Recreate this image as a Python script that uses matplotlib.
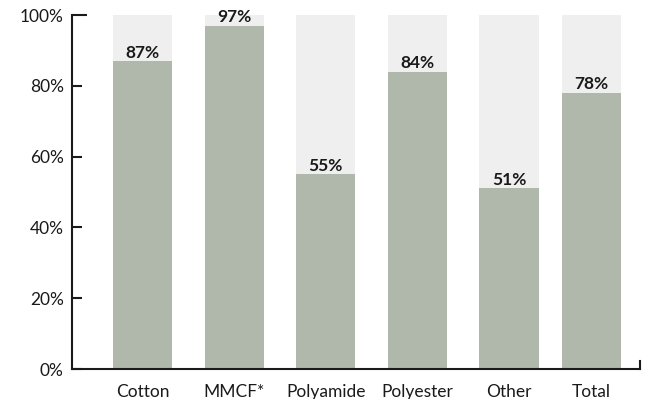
import matplotlib
matplotlib.use("Agg")
import matplotlib.pyplot as plt
from matplotlib.ticker import FuncFormatter

categories = ["Cotton", "MMCF*", "Polyamide", "Polyester", "Other", "Total"]
shares = [87, 97, 55, 84, 51, 78]
y_ticks = [0, 20, 40, 60, 80, 100]

# horizontal placement of each column (Total sits a little closer to Other)
x_pos = [0, 1, 2, 3, 4, 4.9]

BAR = "#b0b8ac"
TRACK = "#efefef"
INK = "#1a1a1a"

plt.rcParams["font.family"] = ["Lato", "DejaVu Sans"]

fig = plt.figure(figsize=(6.48, 3.99), dpi=100)
ax = fig.add_axes([72 / 648, 30 / 399, (640 - 72) / 648, (369 - 15) / 399])

width = 0.645
ax.bar(x_pos, [100] * len(categories), width=width, color=TRACK, zorder=1)
ax.bar(x_pos, shares, width=width, color=BAR, zorder=2)

for x, v in zip(x_pos, shares):
    ax.annotate(f"{v}%", (x, v), xytext=(0, 2.5), textcoords="offset points",
                ha="center", va="baseline", fontsize=12.5, fontweight="bold",
                color=INK, zorder=3)

ax.set_ylim(0, 100)
ax.set_xlim(-0.77, 5.43)

ax.set_yticks(y_ticks)
ax.yaxis.set_major_formatter(FuncFormatter(lambda v, _: f"{v:.0f}%"))
ax.set_xticks(x_pos)
ax.set_xticklabels(categories)

ax.tick_params(axis="y", direction="in", length=7.5, width=1.5, pad=6,
               labelsize=12.5, colors=INK)
ax.tick_params(axis="x", length=0, pad=10.5, labelsize=12.5, colors=INK)

# the top tick is drawn a little longer than the others
ax.yaxis.get_major_ticks()[-1].tick1line.set_markersize(10.5)

for side in ("left", "bottom", "right"):
    ax.spines[side].set_linewidth(1.5)
    ax.spines[side].set_color(INK)
ax.spines["top"].set_visible(False)
ax.spines["right"].set_bounds(0, 2.3)
ax.spines["left"].set_bounds(0, 100)

fig.savefig("out.png", dpi=100)
